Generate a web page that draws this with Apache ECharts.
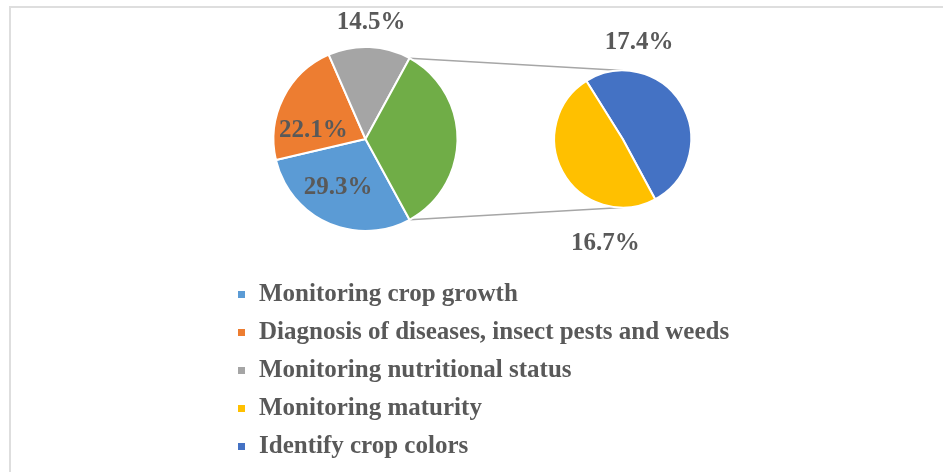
<!DOCTYPE html>
<html><head><meta charset="utf-8">
<script src="https://cdn.jsdelivr.net/npm/echarts@6/dist/echarts.min.js"></script>
<style>
html,body{margin:0;padding:0;background:#fff;overflow:hidden;width:943px;height:472px}
#frame{position:absolute;left:9px;top:6px;width:1000px;height:600px;border-top:2px solid #dedede;border-left:2px solid #dedede;}
#chart{position:absolute;left:0;top:0;width:943px;height:472px}
</style></head>
<body><div id="frame"></div><div id="chart"></div>
<script>
// ---- data ----
const mainNames = ['Monitoring crop growth', 'Diagnosis of diseases, insect pests and weeds', 'Monitoring nutritional status'];
const mainValues = [29.3, 22.1, 14.5];
const subNames = ['Identify crop colors', 'Monitoring maturity'];
const subValues = [17.4, 16.7];
const otherName = 'Other';
const legendNames = ['Monitoring crop growth', 'Diagnosis of diseases, insect pests and weeds', 'Monitoring nutritional status', 'Monitoring maturity', 'Identify crop colors'];

// ---- style ----
const colors = {
  'Monitoring crop growth': '#5B9BD5',
  'Diagnosis of diseases, insect pests and weeds': '#ED7D31',
  'Monitoring nutritional status': '#A5A5A5',
  'Monitoring maturity': '#FFC000',
  'Identify crop colors': '#4472C4',
  'Other': '#70AD47'
};
const FONT = "'Liberation Serif', 'Times New Roman', serif";
const TXT = '#595959';
const C1 = [365.5, 139], R1 = 92;
const C2 = [622.7, 139], R2 = 68.5;
const mainLabelOffsets = [[-27.5, 48.5], [-52.2, -8.2], [5.7, -116.2]];
const subLabelOffsets = [[16.3, -96], [-17.4, 104.3]];

const otherValue = subValues.reduce((a, b) => a + b, 0);
const total = mainValues.reduce((a, b) => a + b, 0) + otherValue;
const otherDeg = otherValue / total * 360;
const mainStart = -otherDeg / 2;

const labelBase = {
  show: true, position: 'inside',
  formatter: p => p.value.toFixed(1) + '%',
  fontFamily: FONT, fontWeight: 'bold', fontSize: 25, color: TXT
};

const chart = echarts.init(document.getElementById('chart'), null, {renderer: 'canvas'});

const a1 = otherDeg / 2 * Math.PI / 180;
const p1 = [C1[0] + R1 * Math.cos(a1), C1[1] - R1 * Math.sin(a1)];
const p2 = [C1[0] + R1 * Math.cos(-a1), C1[1] - R1 * Math.sin(-a1)];

chart.setOption({
  animation: false,
  backgroundColor: 'transparent',
  legend: {
    orient: 'vertical', left: 236, top: 282, padding: 0,
    itemWidth: 9, itemHeight: 9, itemGap: 13, icon: 'rect',
    selectedMode: false,
    data: legendNames,
    textStyle: {fontFamily: FONT, fontWeight: 'bold', fontSize: 25, color: TXT, lineHeight: 25, padding: [0, 0, 0, 8]}
  },
  graphic: [
    {type: 'line', z: 0, shape: {x1: p1[0], y1: p1[1], x2: C2[0], y2: C2[1] - R2}, style: {stroke: '#a6a6a6', lineWidth: 1.3}},
    {type: 'line', z: 0, shape: {x1: p2[0], y1: p2[1], x2: C2[0], y2: C2[1] + R2}, style: {stroke: '#a6a6a6', lineWidth: 1.3}}
  ],
  series: [
    {
      type: 'pie', center: C1, radius: R1, startAngle: mainStart, clockwise: true,
      avoidLabelOverlap: false, silent: true, z: 2,
      itemStyle: {borderColor: '#fff', borderWidth: 2},
      label: labelBase, labelLine: {show: false},
      emphasis: {disabled: true},
      data: mainNames.map((n, i) => ({name: n, value: mainValues[i], itemStyle: {color: colors[n]}}))
        .concat([{name: otherName, value: otherValue, itemStyle: {color: colors[otherName]}, label: {show: false}}]),
      labelLayout: function (p) {
        const o = mainLabelOffsets[p.dataIndex];
        if (!o) return {};
        return {x: C1[0] + o[0], y: C1[1] + o[1], align: 'center', verticalAlign: 'middle'};
      }
    },
    {
      type: 'pie', center: C2, radius: R2, startAngle: 122, clockwise: true,
      avoidLabelOverlap: false, silent: true, z: 2,
      itemStyle: {borderColor: '#fff', borderWidth: 2},
      label: labelBase, labelLine: {show: false},
      emphasis: {disabled: true},
      data: subNames.map((n, i) => ({name: n, value: subValues[i], itemStyle: {color: colors[n]}})),
      labelLayout: function (p) {
        const o = subLabelOffsets[p.dataIndex];
        return {x: C2[0] + o[0], y: C2[1] + o[1], align: 'center', verticalAlign: 'middle'};
      }
    }
  ]
});
</script>
</body></html>
